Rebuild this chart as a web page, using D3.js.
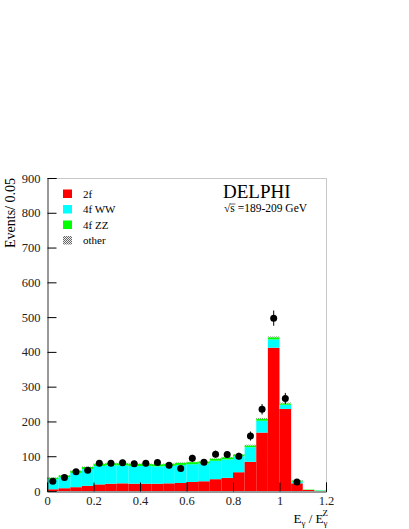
<!DOCTYPE html>
<html>
<head>
<meta charset="utf-8">
<script src="https://cdn.jsdelivr.net/npm/d3@7"></script>
<style>
  body { margin: 0; background: #fff; }
  text { font-family: "Liberation Serif", "Times New Roman", serif; }
</style>
</head>
<body>
<svg id="fig" width="409" height="529"></svg>
<script>
// bin lower edges, width 0.05
var binLow = [0.00, 0.05, 0.10, 0.15, 0.20, 0.25, 0.30, 0.35, 0.40, 0.45, 0.50, 0.55,
              0.60, 0.65, 0.70, 0.75, 0.80, 0.85, 0.90, 0.95, 1.00, 1.05, 1.10, 1.15];
var binWidth = 0.05;

// simulated contributions (stacked)
var twoF  = [5, 8, 11, 15, 19, 21, 22, 21, 21, 21, 22, 23, 26, 28, 34, 38, 54, 84, 168, 412, 236, 22, 3, 0];
var fourWW = [29, 32, 41, 48, 53, 53, 52, 51, 51, 50, 50, 52, 51, 51, 53, 53, 46, 42, 34, 24, 12, 5, 0, 1];
var fourZZ = [4, 5, 6, 6, 6, 6, 6, 6, 6, 6, 6, 6, 6, 6, 6, 6, 5, 5, 6, 6, 4, 3, 1, 1];
var other  = [1, 1, 1, 1, 1, 1, 1, 1, 1, 1, 1, 1, 1, 1, 1, 1, 1, 2, 2, 2, 2, 1, 0, 0];

// data points
var dataX   = [0.025, 0.075, 0.125, 0.175, 0.225, 0.275, 0.325, 0.375, 0.425, 0.475, 0.525, 0.575,
               0.625, 0.675, 0.725, 0.775, 0.825, 0.875, 0.925, 0.975, 1.025, 1.075];
var dataY   = [28, 39, 55, 60, 80, 80, 81, 78, 80, 82, 74, 65, 94, 83, 106, 105, 100, 158, 235, 497, 266, 26];
var dataErr = [5, 6, 7, 8, 9, 9, 9, 9, 9, 9, 9, 8, 10, 9, 10, 10, 10, 13, 15, 22, 16, 5];

var xTicks = [0, 0.2, 0.4, 0.6, 0.8, 1, 1.2];
var yTicks = [0, 100, 200, 300, 400, 500, 600, 700, 800, 900];

var legendLabels = ["2f", "4f WW", "4f ZZ", "other"];

function makeSVG() {
    var svg = d3.select("#fig");
    var left = 47, right = 326, top = 178, bottom = 491;

    var x = d3.scaleLinear().domain([0, 1.2]).range([left, right]);
    var y = d3.scaleLinear().domain([0, 900]).range([bottom, top]);

    var defs = svg.append("defs");
    var pat = defs.append("pattern")
        .attr("id", "checker")
        .attr("width", 2).attr("height", 2)
        .attr("patternUnits", "userSpaceOnUse");
    pat.append("rect").attr("width", 2).attr("height", 2).attr("fill", "#eee");
    pat.append("rect").attr("width", 1).attr("height", 1).attr("fill", "#666");
    pat.append("rect").attr("x", 1).attr("y", 1).attr("width", 1).attr("height", 1).attr("fill", "#666");

    var colors = ["#ff0000", "#00ffff", "#00ff00", "url(#checker)"];
    var series = [twoF, fourWW, fourZZ, other];

    // stacked histogram
    var bars = svg.append("g");
    binLow.forEach(function(lo, i) {
        var base = 0;
        series.forEach(function(s, k) {
            var v = s[i];
            if (v > 0) {
                bars.append("rect")
                    .attr("x", x(lo))
                    .attr("width", x(lo + binWidth) - x(lo))
                    .attr("y", y(base + v))
                    .attr("height", y(base) - y(base + v))
                    .attr("fill", colors[k]);
            }
            base += v;
        });
    });

    // frame
    svg.append("line").attr("x1", left).attr("x2", right).attr("y1", top + 0.5).attr("y2", top + 0.5)
        .attr("stroke", "#c8c8c8");
    svg.append("line").attr("x1", right + 0.5).attr("x2", right + 0.5).attr("y1", top).attr("y2", bottom)
        .attr("stroke", "#c8c8c8");

    // y axis
    var yMinor = d3.range(0, 901, 20);
    var gy = svg.append("g").attr("transform", "translate(" + (left + 0.5) + ",0)");
    gy.call(d3.axisLeft(y).tickValues(yMinor).tickSize(-4.5).tickFormat(""));
    gy.call(d3.axisLeft(y).tickValues(yTicks).tickSize(-9).tickPadding(7).tickFormat(d3.format("d")));
    gy.selectAll("path").attr("stroke", "#333");
    gy.selectAll("text").attr("font-size", 12.5).attr("font-family", "Liberation Serif").attr("fill", "#222");

    // x axis
    var xMinor = d3.range(0, 1.2001, 0.05);
    var gx = svg.append("g").attr("transform", "translate(0," + (bottom + 0.5) + ")");
    gx.call(d3.axisBottom(x).tickValues(xMinor).tickSize(-4.5).tickFormat(""));
    gx.call(d3.axisBottom(x).tickValues(xTicks).tickSize(-9).tickPadding(5).tickFormat(d3.format("")));
    gx.selectAll("path").attr("stroke", "#333");
    gx.selectAll("text").attr("font-size", 12.5).attr("font-family", "Liberation Serif").attr("fill", "#222");

    // data points
    var pts = svg.append("g");
    pts.selectAll("line").data(dataX).enter().append("line")
        .attr("x1", d => x(d)).attr("x2", d => x(d))
        .attr("y1", (d, i) => y(dataY[i] - dataErr[i]))
        .attr("y2", (d, i) => y(dataY[i] + dataErr[i]))
        .attr("stroke", "#000").attr("stroke-width", 1);
    pts.selectAll("circle").data(dataX).enter().append("circle")
        .attr("cx", d => x(d))
        .attr("cy", (d, i) => y(dataY[i]))
        .attr("r", 3.5)
        .attr("fill", "#000");

    // legend
    var lg = svg.append("g");
    legendLabels.forEach(function(lab, k) {
        var ly = 189.5 + k * 15.5;
        lg.append("rect").attr("x", 63).attr("y", ly).attr("width", 9).attr("height", 8.5)
            .attr("fill", colors[k]);
        lg.append("text").attr("x", 83).attr("y", ly + 8).attr("font-size", 11).text(lab);
    });

    // labels
    svg.append("text").attr("x", 223).attr("y", 198).attr("font-size", 19).text("DELPHI");
    var sq = svg.append("text").attr("x", 224).attr("y", 212).attr("font-size", 11.5);
    sq.append("tspan").text("\u221As");
    sq.append("tspan").text(" =189-209 GeV");
    svg.append("line").attr("x1", 230).attr("x2", 235.5).attr("y1", 204).attr("y2", 204)
        .attr("stroke", "#000").attr("stroke-width", 0.6);

    svg.append("text")
        .attr("transform", "translate(15," + top + ") rotate(-90)")
        .attr("text-anchor", "end")
        .attr("font-size", 14)
        .text("Events/ 0.05");

    var xt = svg.append("text").attr("x", right + 2).attr("y", 523).attr("text-anchor", "end").attr("font-size", 13);
    xt.append("tspan").text("E");
    xt.append("tspan").attr("font-size", 9).attr("dy", 3).text("\u03B3");
    xt.append("tspan").attr("dy", -3).text(" / E");
    xt.append("tspan").attr("font-size", 9).attr("dy", 3).text("\u03B3");
    xt.append("tspan").attr("font-size", 9).attr("dx", -5).attr("dy", -10).text("Z");
}
makeSVG();
</script>
</body>
</html>
